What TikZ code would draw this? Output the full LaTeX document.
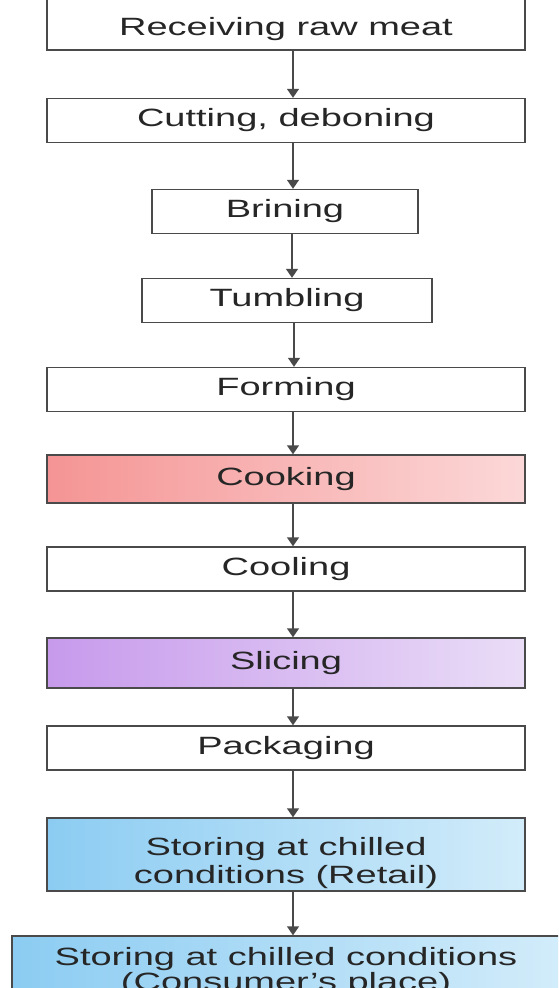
\documentclass[tikz,border=0pt]{standalone}
\usepackage{fontspec}
\setmainfont[FakeStretch=1.52]{Liberation Sans}
\usetikzlibrary{arrows.meta}

\definecolor{edgegray}{HTML}{4A4A4A}
\definecolor{textgray}{HTML}{262626}
\definecolor{cookleft}{HTML}{F59494}
\definecolor{cookright}{HTML}{FCD8D8}
\definecolor{sliceleft}{HTML}{C79AEC}
\definecolor{sliceright}{HTML}{EADDF7}
\definecolor{chillleft}{HTML}{8CCCF2}
\definecolor{chillright}{HTML}{D2ECFA}

\begin{document}
\begin{tikzpicture}[x=1pt,y=-1pt,
    stagebox/.style={draw=edgegray,line width=1.4pt,fill=white,inner sep=0pt,
        text=textgray,font=\fontsize{25}{28}\selectfont,align=center,
        minimum width=478pt,minimum height=44pt},
    flow/.style={draw=edgegray,line width=1.4pt,-{Triangle[width=12pt,length=9pt]}}]
    \useasboundingbox (0,0) rectangle (558,988);
    \clip (0,0) rectangle (558,988);

    % top box runs off the page
    \node[stagebox,minimum height=52pt] (receive) at (286,24) {\rule{0pt}{29pt}Receiving raw meat};
    \node[stagebox] (cut) at (286,120.5) {Cutting, deboning};
    \node[stagebox,minimum width=266pt] (brine) at (285,211.5) {Brining};
    \node[stagebox,minimum width=290pt] (tumble) at (287,300.5) {Tumbling};
    \node[stagebox] (form) at (286,389.5) {Forming};
    \node[stagebox,minimum height=48pt,left color=cookleft,right color=cookright] (cook) at (286,479) {Cooking};
    \node[stagebox] (cool) at (286,569) {Cooling};
    \node[stagebox,minimum height=50pt,left color=sliceleft,right color=sliceright] (slice) at (286,663) {Slicing};
    \node[stagebox] (pack) at (286,748) {Packaging};
    \node[stagebox,minimum height=73pt,left color=chillleft,right color=chillright] (retail) at (286,854.5)
        {\rule{0pt}{36pt}Storing at chilled\\conditions (Retail)};
    % bottom box runs off the page too
    \node[stagebox,minimum width=548pt,minimum height=71pt,font=\fontsize{25}{24.5}\selectfont,
        left color=chillleft,right color=chillright] (home) at (286,971.5)
        {Storing at chilled conditions\\(Consumer's place)};

    \foreach \a/\b in {receive/cut,cut/brine,brine/tumble,tumble/form,form/cook,
                       cook/cool,cool/slice,slice/pack,pack/retail,retail/home} {
        \draw[flow] ([xshift=7pt]\a.south) -- ([xshift=7pt]\a.south |- \b.north);
    }
\end{tikzpicture}
\end{document}
